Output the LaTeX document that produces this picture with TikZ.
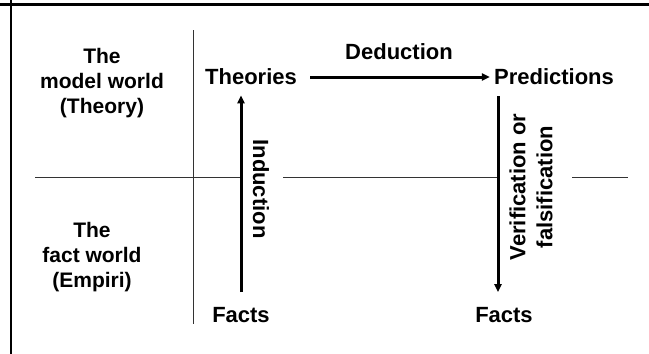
\documentclass[tikz,border=0pt]{standalone}
\usepackage{fontspec}
\setmainfont{Liberation Sans}
\usepackage{tikz}
\usetikzlibrary{arrows.meta}

\begin{document}
\begin{tikzpicture}[x=1pt,y=-1pt,>={Triangle[length=8pt,width=7pt]},font=\fontsize{22}{27}\selectfont\bfseries,line cap=butt]
\tikzset{
  label/.style={inner sep=2pt,align=center},
  world/.style={label,font=\fontsize{21}{25}\selectfont\bfseries},
  flow/.style={->,line width=3pt},
  divider/.style={black!80,line width=1pt}
}
\useasboundingbox (0,0) rectangle (649,354);
% frame
\draw[line width=3pt] (0,4) -- (649,4);
\draw[line width=2pt] (11,0) -- (11,354);
% dividers
\draw[divider] (193,30) -- (193,324);
\draw[divider] (35,177) -- (240,177);
\draw[divider] (283,177) -- (497,177);
\draw[divider] (572,177) -- (628,177);
% worlds
\node[world] (model) at (102,83) {The\\model world\\(Theory)};
\node[world] (fact) at (92,257) {The\\fact world\\(Empiri)};
% main labels
\node[label] (theories) at (251,77) {Theories};
\node[label] (predictions) at (554,77) {Predictions};
\node[label] (factsL) at (241,315) {Facts};
\node[label] (factsR) at (504,315) {Facts};
\node[label] (deduction) at (399,52) {Deduction};
\node[label,rotate=-90] (induction) at (261,189) {Induction};
\node[label,rotate=90,inner sep=0pt] (verif) at (531,187) {Verification or\\falsification};
% arrows
\draw[flow,shorten <=11pt,shorten >=2pt] (theories.east) -- (predictions.west);
\draw[flow,shorten <=13pt,shorten >=8pt] (factsL.north) -- (theories.south -| factsL.north);
\draw[flow,shorten <=9pt,shorten >=13pt] ([xshift=-6pt]predictions.south -| factsR.north) -- ([xshift=-6pt]factsR.north);
\end{tikzpicture}
\end{document}
